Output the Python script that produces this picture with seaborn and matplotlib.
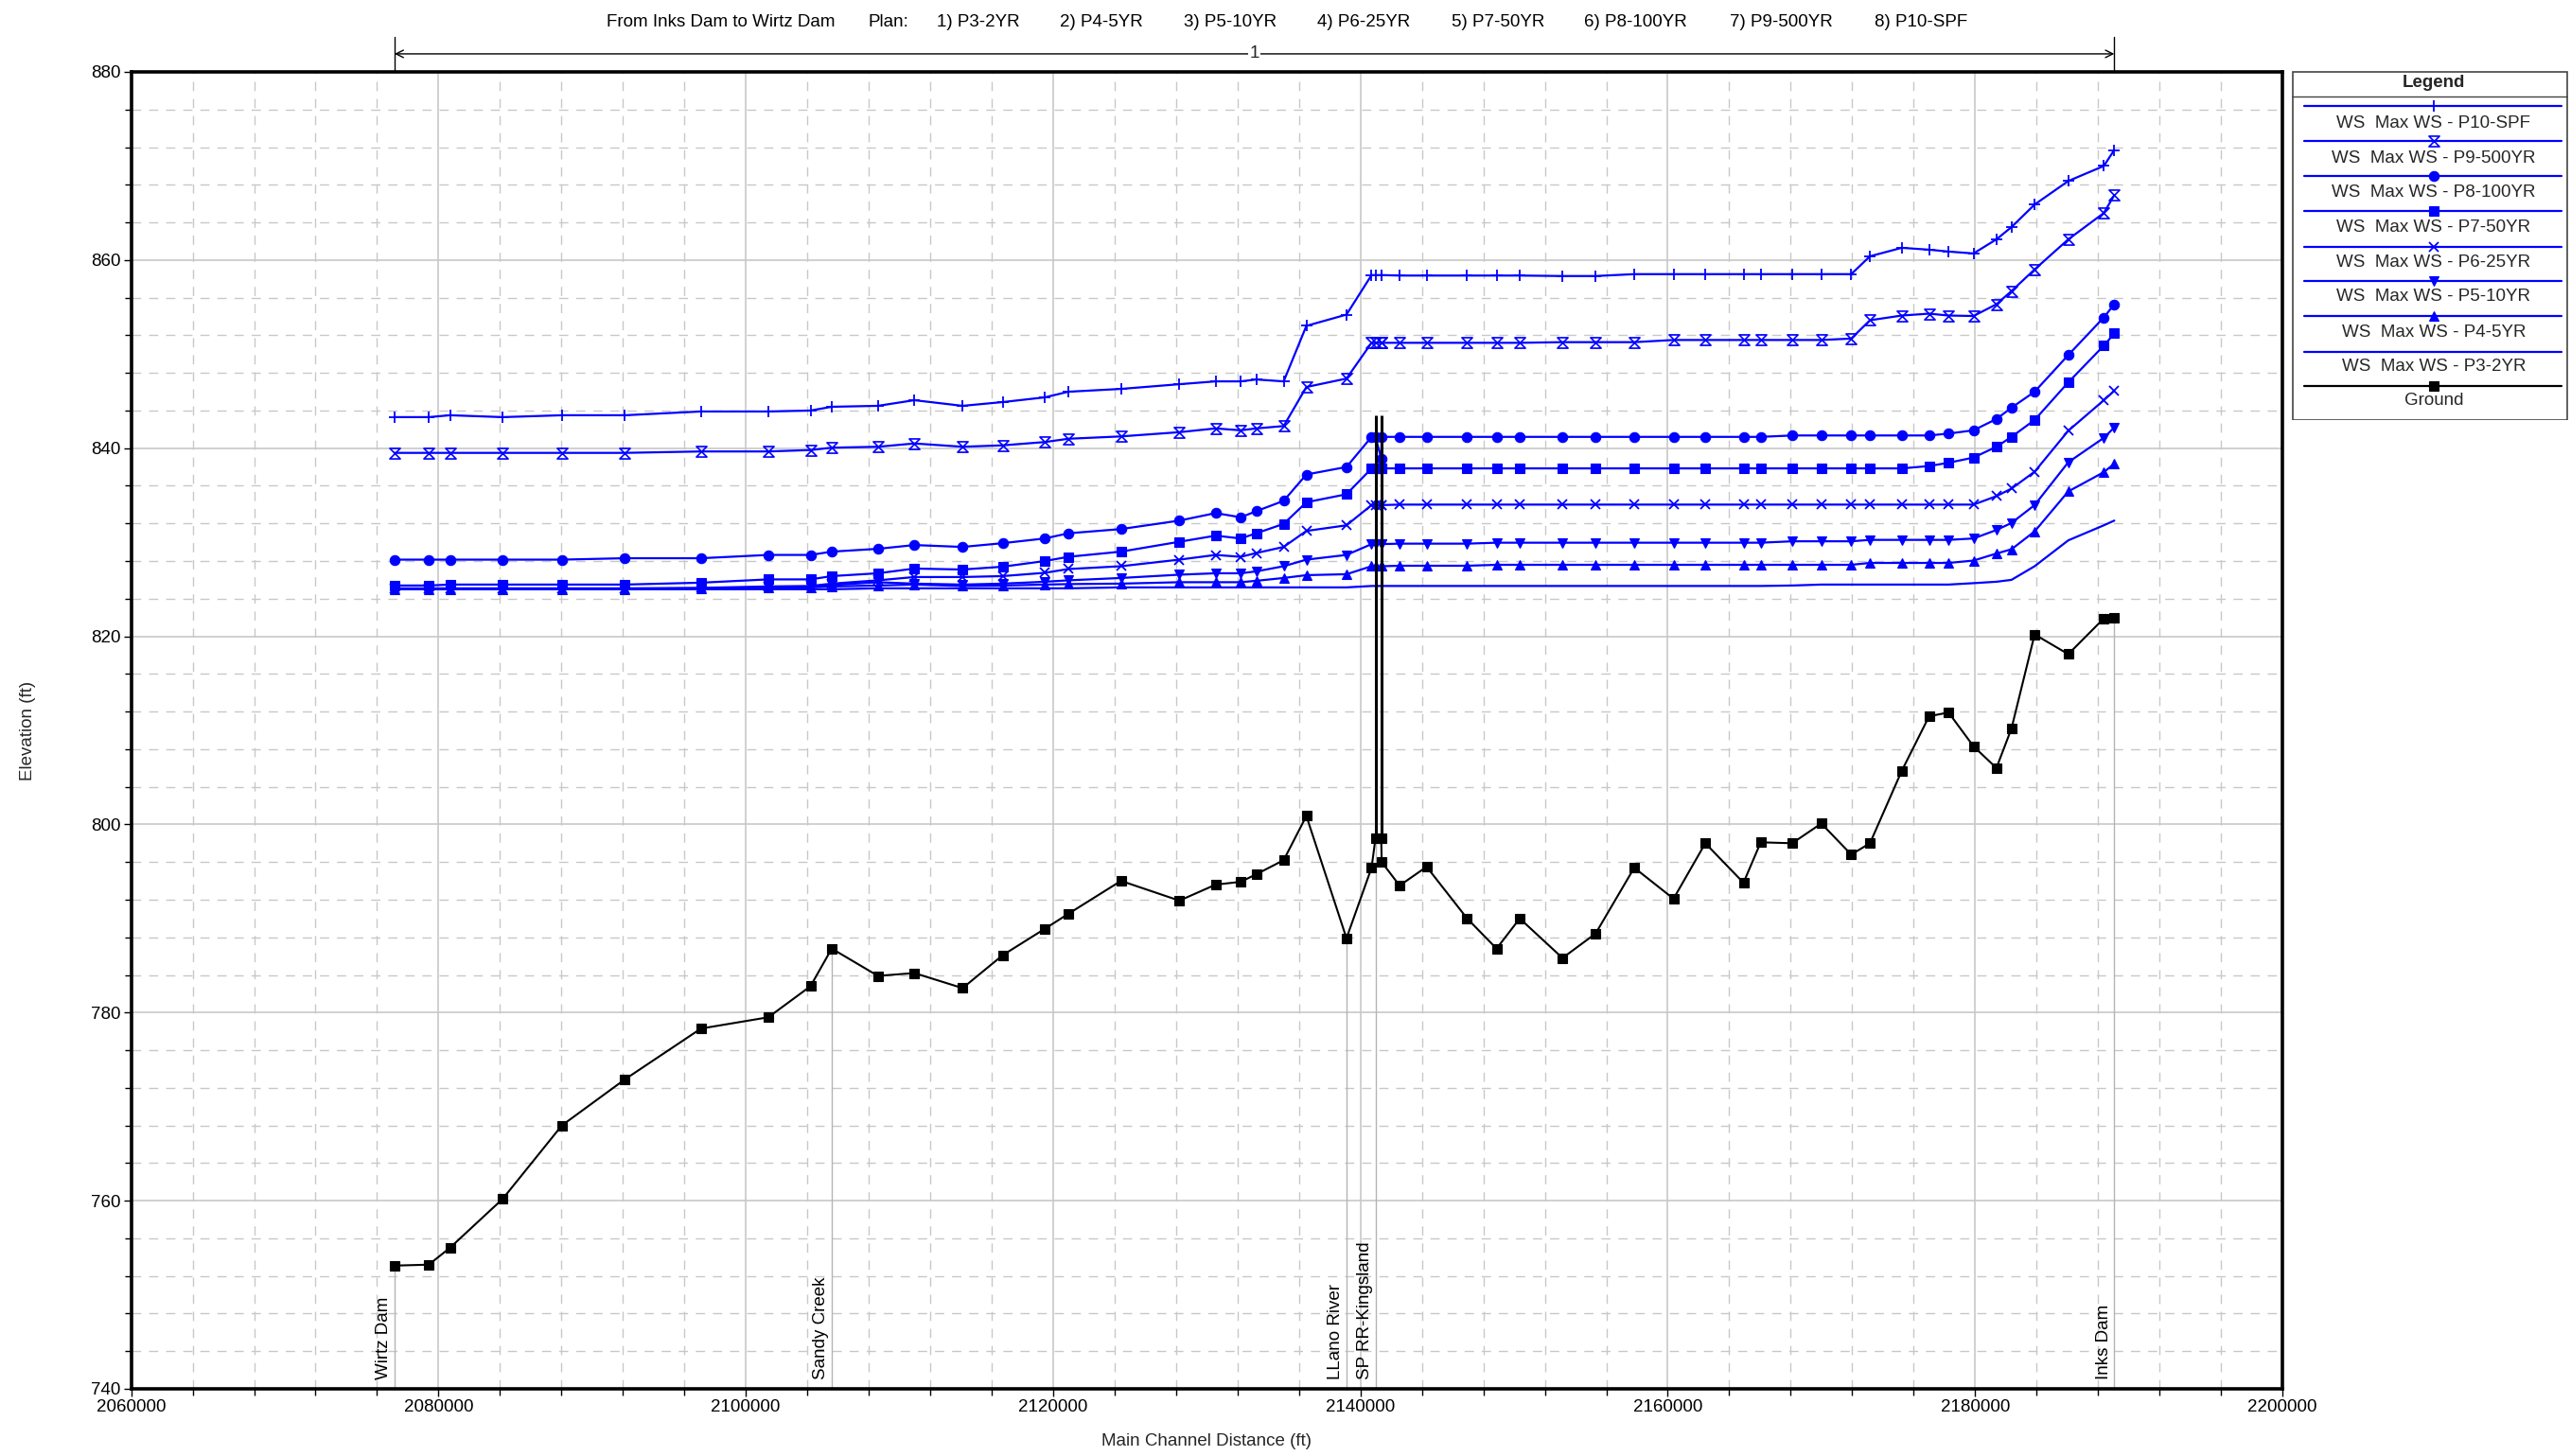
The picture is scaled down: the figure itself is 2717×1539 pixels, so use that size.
import numpy as np
import pandas as pd
import matplotlib
matplotlib.use("Agg")
import matplotlib.pyplot as plt
from matplotlib.path import Path
from matplotlib.patches import Rectangle
from matplotlib.ticker import MultipleLocator, FuncFormatter
import seaborn as sns

# ---------------------------------------------------------------- data
stations = [
    2077144, 2079373, 2080752, 2084183, 2088031, 2092133, 2097084, 2101468, 2104210, 2105594,
    2108600, 2110970, 2114110, 2116720, 2119455, 2120994, 2124418, 2128218, 2130576, 2132208,
    2133218, 2135004, 2136482, 2139093, 2140725, 2140977, 2141353, 2141384, 2142548, 2144309,
    2146945, 2148860, 2150369, 2153150, 2155305, 2157820, 2160376, 2162445, 2164930, 2166050,
    2168097, 2169994, 2171942, 2173160, 2175230, 2177010, 2178275, 2179900, 2181390, 2182370,
    2183876, 2186066, 2188380, 2189060,
]

ground = [
    753.1, 753.2, 755.0, 760.2, 768.0, 772.9, 778.3, 779.5, 782.8, 786.8,
    783.9, 784.2, 782.6, 786.1, 788.9, 790.5, 794.0, 791.9, 793.6, 793.9,
    794.7, 796.2, 800.9, 787.9, 795.4, 798.5, 798.5, 796.0, 793.5, 795.5,
    790.0, 786.8, 790.0, 785.8, 788.4, 795.4, 792.1, 798.0, 793.8, 798.1,
    798.0, 800.1, 796.8, 798.0, 805.7, 811.5, 811.9, 808.3, 806.0, 810.2,
    820.2, 818.1, 821.9, 822.0,
]

ws_p10_spf = [
    843.3, 843.3, 843.5, 843.3, 843.5, 843.5, 843.9, 843.9, 844.0, 844.4,
    844.5, 845.1, 844.5, 844.9, 845.4, 846.0, 846.3, 846.8, 847.1, 847.1,
    847.3, 847.1, 853.0, 854.2, 858.4, 858.4, 858.4, 858.4, 858.35, 858.35,
    858.35, 858.35, 858.35, 858.3, 858.3, 858.5, 858.5, 858.5, 858.5, 858.5,
    858.5, 858.5, 858.5, 860.4, 861.3, 861.1, 860.9, 860.7, 862.2, 863.5,
    865.9, 868.4, 870.0, 871.7,
]

ws_p9_500yr = [
    839.5, 839.5, 839.5, 839.5, 839.5, 839.5, 839.65, 839.65, 839.8, 840.05,
    840.15, 840.5, 840.15, 840.3, 840.65, 841.0, 841.25, 841.7, 842.1, 841.9,
    842.1, 842.35, 846.5, 847.4, 851.2, 851.2, 851.2, 851.2, 851.2, 851.2,
    851.2, 851.2, 851.2, 851.27, 851.27, 851.27, 851.5, 851.5, 851.5, 851.5,
    851.5, 851.5, 851.65, 853.6, 854.1, 854.3, 854.1, 854.05, 855.3, 856.7,
    859.0, 862.2, 865.0, 866.9,
]

ws_p8_100yr = [
    828.15, 828.15, 828.15, 828.15, 828.15, 828.3, 828.3, 828.65, 828.65, 829.0,
    829.3, 829.7, 829.5, 829.9, 830.4, 830.95, 831.4, 832.3, 833.1, 832.65,
    833.3, 834.4, 837.2, 838.0, 841.2, 841.2, 838.9, 841.2, 841.2, 841.2,
    841.2, 841.2, 841.2, 841.2, 841.2, 841.2, 841.2, 841.2, 841.2, 841.2,
    841.35, 841.35, 841.35, 841.35, 841.35, 841.35, 841.55, 841.9, 843.1, 844.3,
    846.0, 849.9, 853.9, 855.3,
]

ws_p7_50yr = [
    825.4, 825.4, 825.5, 825.5, 825.5, 825.5, 825.7, 826.05, 826.05, 826.4,
    826.7, 827.2, 827.1, 827.4, 828.0, 828.45, 829.0, 830.05, 830.7, 830.4,
    830.95, 831.95, 834.25, 835.1, 837.85, 837.85, 837.85, 837.85, 837.85, 837.85,
    837.85, 837.85, 837.85, 837.85, 837.85, 837.85, 837.85, 837.85, 837.85, 837.85,
    837.85, 837.85, 837.85, 837.85, 837.85, 838.1, 838.45, 839.0, 840.15, 841.2,
    843.0, 847.0, 850.9, 852.2,
]

ws_p6_25yr = [
    825.1, 825.1, 825.1, 825.1, 825.1, 825.1, 825.15, 825.3, 825.35, 825.6,
    825.95, 826.3, 826.3, 826.4, 826.75, 827.15, 827.45, 828.15, 828.65, 828.45,
    828.85, 829.5, 831.2, 831.8, 833.95, 833.95, 833.95, 833.95, 834.0, 834.0,
    834.0, 834.0, 834.0, 834.0, 834.0, 834.0, 834.0, 834.0, 834.0, 834.0,
    834.0, 834.0, 834.0, 834.0, 834.0, 834.0, 834.0, 834.0, 834.9, 835.7,
    837.5, 841.85, 845.1, 846.1,
]

ws_p5_10yr = [
    825.05, 825.05, 825.05, 825.05, 825.05, 825.05, 825.1, 825.2, 825.25, 825.45,
    825.75, 825.6, 825.5, 825.6, 825.8, 825.95, 826.2, 826.55, 826.7, 826.7,
    826.9, 827.45, 828.15, 828.65, 829.8, 829.8, 829.8, 829.8, 829.85, 829.85,
    829.85, 829.95, 829.95, 829.95, 829.95, 829.95, 829.95, 829.95, 829.95, 829.95,
    830.1, 830.1, 830.1, 830.25, 830.25, 830.25, 830.25, 830.4, 831.3, 832.05,
    833.95, 838.5, 841.1, 842.2,
]

ws_p4_5yr = [
    825.0, 825.0, 825.0, 825.0, 825.0, 825.0, 825.05, 825.15, 825.2, 825.3,
    825.4, 825.5, 825.35, 825.4, 825.5, 825.55, 825.6, 825.75, 825.75, 825.75,
    825.9, 826.2, 826.5, 826.6, 827.45, 827.45, 827.45, 827.45, 827.5, 827.5,
    827.5, 827.6, 827.6, 827.6, 827.6, 827.6, 827.6, 827.6, 827.6, 827.6,
    827.6, 827.6, 827.6, 827.8, 827.8, 827.8, 827.8, 828.05, 828.8, 829.25,
    831.15, 835.4, 837.45, 838.35,
]

ws_p3_2yr = [
    825.0, 825.0, 825.0, 825.0, 825.0, 825.0, 825.0, 825.0, 825.0, 825.0,
    825.1, 825.1, 825.1, 825.1, 825.1, 825.1, 825.2, 825.2, 825.2, 825.2,
    825.2, 825.2, 825.2, 825.2, 825.35, 825.35, 825.35, 825.35, 825.35, 825.35,
    825.35, 825.35, 825.35, 825.35, 825.35, 825.35, 825.35, 825.35, 825.35, 825.35,
    825.4, 825.5, 825.5, 825.5, 825.5, 825.5, 825.5, 825.65, 825.8, 826.0,
    827.45, 830.2, 831.8, 832.3,
]

plan_names = ["P3-2YR", "P4-5YR", "P5-10YR", "P6-25YR", "P7-50YR", "P8-100YR", "P9-500YR", "P10-SPF"]

# bridge faces (SP RR-Kingsland) and top of deck
bridge_faces = [2140977, 2141353]
bridge_top = 843.5

# named river stations shown along the bottom
landmark_names = ["Wirtz Dam", "Sandy Creek", "LLano River", "SP RR-Kingsland", "Inks Dam"]
landmark_x = [2077144, 2105594, 2139093, 2140977, 2189060]
landmark_ground = [753.1, 786.8, 787.9, 798.5, 822.0]

# ---------------------------------------------------------------- styles
hourglass = Path([(-1, 1), (1, 1), (-1, -1), (1, -1), (-1, 1)],
                 [Path.MOVETO, Path.LINETO, Path.LINETO, Path.LINETO, Path.CLOSEPOLY])

BLUE = "#0000ff"
series = [
    ("P10-SPF", ws_p10_spf, dict(marker="+", markersize=8, markeredgewidth=1.3,
                                  markeredgecolor=BLUE, markerfacecolor=BLUE)),
    ("P9-500YR", ws_p9_500yr, dict(marker=hourglass, markersize=8, markeredgewidth=1.2,
                                    markeredgecolor=BLUE, markerfacecolor="none")),
    ("P8-100YR", ws_p8_100yr, dict(marker="o", markersize=7.5, markeredgewidth=0.8,
                                    markeredgecolor=BLUE, markerfacecolor=BLUE)),
    ("P7-50YR", ws_p7_50yr, dict(marker="s", markersize=7, markeredgewidth=0.8,
                                  markeredgecolor=BLUE, markerfacecolor=BLUE)),
    ("P6-25YR", ws_p6_25yr, dict(marker="x", markersize=7, markeredgewidth=1.3,
                                  markeredgecolor=BLUE, markerfacecolor=BLUE)),
    ("P5-10YR", ws_p5_10yr, dict(marker="v", markersize=7.5, markeredgewidth=0.8,
                                  markeredgecolor=BLUE, markerfacecolor=BLUE)),
    ("P4-5YR", ws_p4_5yr, dict(marker="^", markersize=7.5, markeredgewidth=0.8,
                                markeredgecolor=BLUE, markerfacecolor=BLUE)),
    ("P3-2YR", ws_p3_2yr, dict(marker=None)),
]

# ---------------------------------------------------------------- figure
sns.set_theme(style="white")
plt.rcParams["font.family"] = ["Liberation Sans", "DejaVu Sans"]
FS = 13.5

W, H = 2717, 1539
fig = plt.figure(figsize=(W / 100, H / 100), dpi=100)
fig.patch.set_facecolor("white")
L, R, T, B = 138.6, 2412.0, 76.0, 1468.0
ax = fig.add_axes([L / W, 1 - B / H, (R - L) / W, (B - T) / H])
ax.set_facecolor("white")

ax.set_xlim(2060000, 2200000)
ax.set_ylim(740, 880)
ax.xaxis.set_major_locator(MultipleLocator(20000))
ax.xaxis.set_minor_locator(MultipleLocator(4000))
ax.yaxis.set_major_locator(MultipleLocator(20))
ax.yaxis.set_minor_locator(MultipleLocator(4))
ax.xaxis.set_major_formatter(FuncFormatter(lambda v, p: f"{v:.0f}"))
ax.yaxis.set_major_formatter(FuncFormatter(lambda v, p: f"{v:.0f}"))

ax.set_axisbelow(True)
ax.grid(which="major", color="#c8c8c8", lw=1.2, ls="-")
ax.grid(which="minor", color="#c8c8c8", lw=1.0, ls=(0, (7, 6)))

ax.tick_params(which="both", direction="out", bottom=True, left=True, top=False, right=False,
               color="black", width=1, labelsize=FS, labelcolor="black")
ax.tick_params(which="major", length=6, pad=2)
ax.tick_params(which="minor", length=5)
for s in ax.spines.values():
    s.set_visible(True)
    s.set_color("black")
    s.set_linewidth(2.6)

# landmark station lines and names
for name, xs, gz in zip(landmark_names, landmark_x, landmark_ground):
    ax.plot([xs, xs], [740, gz], color="#b4b4b4", lw=1.0, zorder=1.5)
    ax.annotate(name, xy=(xs, 740), xycoords="data", xytext=(-2, 7), textcoords="offset points",
                rotation=90, ha="right", va="bottom", fontsize=FS, color="black")

# water surface profiles
for name, vals, kw in series:
    sns.lineplot(x=stations, y=vals, ax=ax, color=BLUE, lw=1.6, estimator=None, sort=False,
                 legend=False, zorder=3, **kw)

# ground profile
sns.lineplot(x=stations, y=ground, ax=ax, color="black", lw=1.5, estimator=None, sort=False,
             legend=False, zorder=4, marker="s", markersize=6.5, markeredgewidth=0.8,
             markeredgecolor="black", markerfacecolor="black")

# bridge deck faces
ax.vlines(bridge_faces, [ground[25], ground[26]], bridge_top, colors="black", lw=2.2, zorder=5)

ax.set_xlabel("")
ax.set_ylabel("")

# reach bracket above the plot
xt = ax.get_xaxis_transform()
reach_start, reach_end = stations[0], stations[-1]
reach_mid = (reach_start + reach_end) / 2
for xr in (reach_start, reach_end):
    ax.plot([xr, xr], [1.0, 1.0266], transform=xt, color="black", lw=1.0, clip_on=False)
for xr in (reach_start, reach_end):
    ax.annotate("", xy=(xr, 1.0137), xytext=(reach_mid, 1.0137), xycoords=xt, textcoords=xt,
                arrowprops=dict(arrowstyle="->", lw=1.0, color="black", shrinkA=0, shrinkB=0,
                                mutation_scale=14))
ax.text(reach_mid, 1.0137, "1", transform=xt, ha="center", va="center", fontsize=FS,
        bbox=dict(facecolor="white", edgecolor="none", pad=1.0), clip_on=False)

# header line
header_items = ["From Inks Dam to Wirtz Dam", "Plan:"] + [f"{i + 1}) {n}" for i, n in enumerate(plan_names)]
header_x = [641, 918, 989.6, 1119.6, 1251, 1391.6, 1533.7, 1674, 1828, 1981]
for txt, hx in zip(header_items, header_x):
    fig.text(hx / W, 1 - 24 / H, txt, ha="left", va="center", fontsize=FS, color="black")

# axis titles
fig.text(30 / W, 1 - 772 / H, "Elevation (ft)", rotation=90, ha="center", va="center", fontsize=FS)
fig.text(1275 / W, 1 - 1523 / H, "Main Channel Distance (ft)", ha="center", va="center", fontsize=FS)

# legend panel
LX0, LY0, LX1, LY1 = 2422, 75, 2714, 444
lax = fig.add_axes([LX0 / W, 1 - LY1 / H, (LX1 - LX0) / W, (LY1 - LY0) / H])
lax.set_xlim(0, LX1 - LX0)
lax.set_ylim(LY1 - LY0, 0)
lax.axis("off")
lax.add_patch(Rectangle((0.5, 0.5), LX1 - LX0 - 1, LY1 - LY0 - 1, fill=False, ec="#444444", lw=1.2))
lax.plot([0, LX1 - LX0], [26.5, 26.5], color="#444444", lw=1.0)
lax.text(150, 13, "Legend", ha="center", va="center", fontsize=FS, fontweight="bold")

legend_entries = [(f"WS  Max WS - {n}", BLUE, kw) for n, _, kw in series]
legend_entries.append(("Ground", "black", dict(marker="s", markersize=6.5, markeredgewidth=0.8,
                                                 markeredgecolor="black", markerfacecolor="black")))
line_y = [36.5, 74, 111, 148, 185.5, 222, 259, 296.5, 333]
text_y = [55.5, 92.5, 128.5, 165.5, 202, 239, 276.5, 312.5, 349]
for (lbl, col, kw), ly, ty in zip(legend_entries, line_y, text_y):
    lax.plot([13, 285], [ly, ly], color=col, lw=1.6)
    if kw.get("marker") is not None:
        lax.plot([150], [ly], color=col, linestyle="none", **kw)
    lax.text(150, ty, lbl, ha="center", va="center", fontsize=FS)

fig.savefig("out.png", dpi=100, facecolor="white")
